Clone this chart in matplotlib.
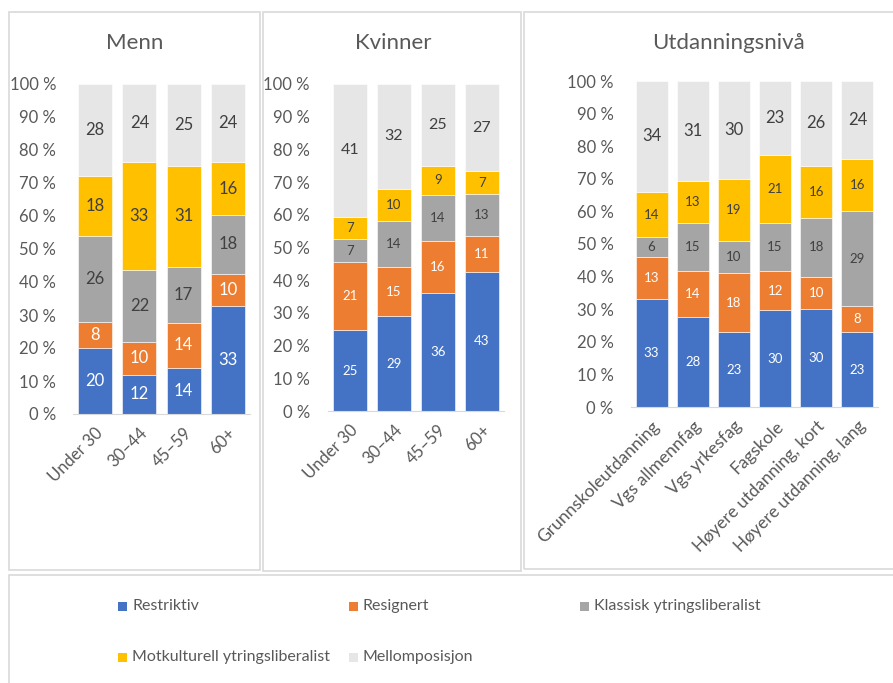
import matplotlib
matplotlib.use("Agg")
import matplotlib.pyplot as plt
import matplotlib.patches as mpatches
import numpy as np

plt.rcParams['font.family'] = ['Lato', 'DejaVu Sans']

W, H = 893, 683

series = ['Restriktiv', 'Resignert', 'Klassisk ytringsliberalist',
          'Motkulturell ytringsliberalist', 'Mellomposisjon']
colors = ['#4472C4', '#ED7D31', '#A5A5A5', '#FFC000', '#E7E6E6']
label_colors = ['white', 'white', '#404040', '#404040', '#404040']
txt = '#595959'

menn_cats = ['Under 30', '30–44', '45–59', '60+']
menn_restriktiv = [20, 12, 14, 33]
menn_resignert = [8, 10, 14, 10]
menn_klassisk = [26, 22, 17, 18]
menn_motkulturell = [18, 33, 31, 16]
menn_mellom = [28, 24, 25, 24]

kvinner_cats = ['Under 30', '30–44', '45–59', '60+']
kvinner_restriktiv = [25, 29, 36, 43]
kvinner_resignert = [21, 15, 16, 11]
kvinner_klassisk = [7, 14, 14, 13]
kvinner_motkulturell = [7, 10, 9, 7]
kvinner_mellom = [41, 32, 25, 27]

utd_cats = ['Grunnskoleutdanning', 'Vgs allmennfag', 'Vgs yrkesfag', 'Fagskole',
            'Høyere utdanning, kort', 'Høyere utdanning, lang']
utd_restriktiv = [33, 28, 23, 30, 30, 23]
utd_resignert = [13, 14, 18, 12, 10, 8]
utd_klassisk = [6, 15, 10, 15, 18, 29]
utd_motkulturell = [14, 13, 19, 21, 16, 16]
utd_mellom = [34, 31, 30, 23, 26, 24]


def ax_px(fig, left, right, top, bottom):
    return fig.add_axes([left / W, 1 - bottom / H, (right - left) / W, (bottom - top) / H])


def box_px(fig, left, right, top, bottom):
    fig.patches.append(mpatches.Rectangle((left / W, 1 - bottom / H), (right - left) / W,
                                          (bottom - top) / H, transform=fig.transFigure,
                                          facecolor='none', edgecolor='#D9D9D9', lw=1.2,
                                          zorder=-1))


def panel(fig, pos, title, cats, data, width, ypad, small_fs, big_fs, title_x, xfs=12):
    ax = ax_px(fig, *pos)
    ax.patch.set_alpha(0)
    vals = np.array(data, dtype=float)
    share = vals / vals.sum(axis=0) * 100
    x = np.arange(len(cats))
    bottom = np.zeros(len(cats))
    for i in range(len(series)):
        ax.bar(x, share[i], width, bottom=bottom, color=colors[i],
               edgecolor='white', linewidth=0.4)
        fs = big_fs if i == 4 else small_fs
        for xi, b, h, v in zip(x, bottom, share[i], vals[i]):
            ax.text(xi, b + h / 2, '%d' % v, ha='center', va='center',
                    color=label_colors[i], fontsize=fs)
        bottom += share[i]
    ax.set_ylim(0, 100)
    ax.set_xlim(-0.5, len(cats) - 0.5)
    ax.set_yticks(np.arange(0, 101, 10))
    ax.set_yticklabels(['%d %%' % t for t in range(0, 101, 10)])
    ax.set_xticks(x)
    ax.set_xticklabels(cats, rotation=45, ha='right', rotation_mode='anchor')
    ax.tick_params(axis='both', length=0, labelsize=12, colors=txt)
    ax.tick_params(axis='y', pad=ypad)
    ax.tick_params(axis='x', pad=8, labelsize=xfs)
    for s in ['top', 'right', 'left']:
        ax.spines[s].set_visible(False)
    ax.spines['bottom'].set_color('#D9D9D9')
    fig.text(title_x / W, 1 - 43 / H, title, ha='center', va='center',
             fontsize=16, color=txt)
    return ax


fig = plt.figure(figsize=(W / 100, H / 100), dpi=100)

box_px(fig, 9, 260, 12, 570)
box_px(fig, 263, 521, 12, 571)
box_px(fig, 524, 900, 12, 569)
box_px(fig, 9, 900, 575, 690)

panel(fig, (73, 250, 84, 414), 'Menn', menn_cats,
      [menn_restriktiv, menn_resignert, menn_klassisk, menn_motkulturell, menn_mellom],
      0.77, 12, 12, 12, 135)
panel(fig, (328, 504, 84, 411), 'Kvinner', kvinner_cats,
      [kvinner_restriktiv, kvinner_resignert, kvinner_klassisk, kvinner_motkulturell,
       kvinner_mellom], 0.77, 13, 9.5, 11.5, 393)
panel(fig, (631, 878, 81, 407), 'Utdanningsnivå', utd_cats,
      [utd_restriktiv, utd_resignert, utd_klassisk, utd_motkulturell, utd_mellom],
      0.78, 12.5, 9.5, 12, 729, xfs=12.5)

# legend drawn by hand to match the fixed column spacing
leg_pos = [(118, 606), (349, 606), (580, 606), (118, 657), (349, 657)]
for (lx, ly), name, c in zip(leg_pos, series, colors):
    fig.patches.append(mpatches.Rectangle((lx / W, 1 - (ly + 4.5) / H), 9 / W, 9 / H,
                                          transform=fig.transFigure, facecolor=c,
                                          edgecolor='none'))
    fig.text((lx + 14) / W, 1 - ly / H, name, ha='left', va='center', fontsize=11.5,
             color=txt)

fig.savefig('out.png', dpi=100)
